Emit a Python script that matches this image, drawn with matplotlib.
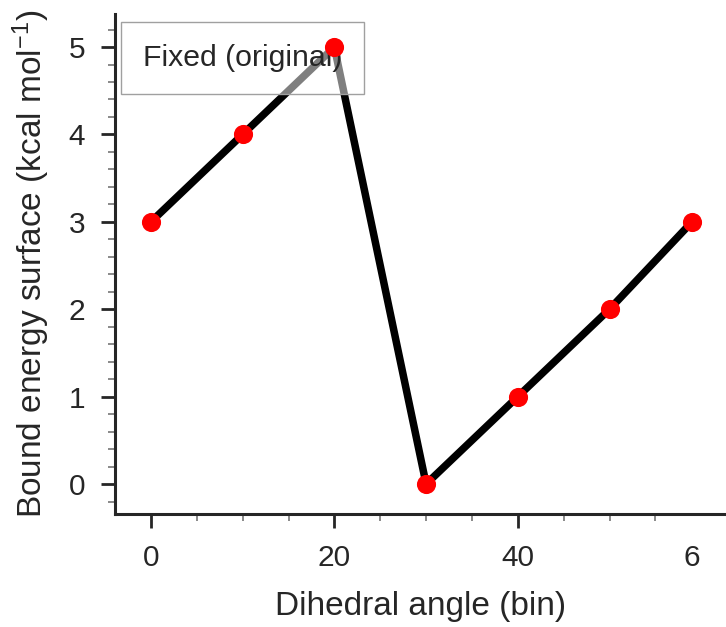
import matplotlib
matplotlib.use("Agg")
import matplotlib.pyplot as plt
from matplotlib.ticker import FixedLocator

plt.rcParams['font.family'] = ['Liberation Sans', 'DejaVu Sans']
plt.rcParams['mathtext.fontset'] = 'custom'
plt.rcParams['mathtext.rm'] = 'Liberation Sans'
plt.rcParams['mathtext.it'] = 'Liberation Sans:italic'
plt.rcParams['mathtext.default'] = 'regular'

# data
x_vals = [0, 10, 20, 30, 40, 50, 59]
y_vals = [3, 4, 5, 0, 1, 2, 3]
xtick_pos = [0, 20, 40, 59]
xtick_labels = ['0', '20', '40', '6']
ytick_pos = [0, 1, 2, 3, 4, 5]
legend_label = 'Fixed (original)'

text_color = '#262626'
fs_tick = 21.5
fs_label = 24
fs_leg = 21.8

fig = plt.figure(figsize=(7.26, 6.27), dpi=100)
ax = fig.add_axes([115/726, 1 - 514/627, 1 - 115/726 + 0.0, (514 - 14)/627])

line, = ax.plot(x_vals, y_vals, color='black', lw=5.4, zorder=2, label=legend_label)
ax.scatter(x_vals, y_vals, s=190, color='red', zorder=6, linewidths=0)

ax.set_xlim(-3.92, 62.7)
ax.set_ylim(-0.343, 5.378)

ax.set_xticks(xtick_pos)
ax.set_xticklabels(xtick_labels)
ax.xaxis.set_minor_locator(FixedLocator([5, 10, 15, 25, 30, 35, 45, 50, 55]))
ax.set_yticks(ytick_pos)
ax.yaxis.set_minor_locator(FixedLocator([v / 5 for v in range(-1, 27) if v % 5 != 0]))

ax.tick_params(which='major', length=10, width=2.0, color=text_color,
               labelsize=fs_tick, labelcolor=text_color, pad=11.5)
ax.tick_params(which='minor', length=5, width=1.3, color='#808080')
ax.xaxis.get_major_ticks()[3].tick1line.set_visible(False)

for side in ['top', 'right']:
    ax.spines[side].set_visible(False)
for side in ['left', 'bottom']:
    ax.spines[side].set_linewidth(2.2)
    ax.spines[side].set_color(text_color)

ax.set_xlabel('Dihedral angle (bin)', fontsize=fs_label, color=text_color, labelpad=14)
ax.set_ylabel('Bound energy surface (kcal mol$^{-1}$)', fontsize=fs_label, color=text_color, labelpad=12)

leg = ax.legend(handles=[line], labels=[legend_label], loc='upper left',
                bbox_to_anchor=((121 - 115)/611, (514 - 22)/500),
                borderaxespad=0, fontsize=fs_leg, handlelength=0, handletextpad=0,
                fancybox=False, borderpad=0.72, frameon=True)
for h in leg.legend_handles:
    h.set_visible(False)
for t in leg.get_texts():
    t.set_color(text_color)
frame = leg.get_frame()
frame.set_alpha(None)
frame.set_facecolor((1, 1, 1, 0.5))
frame.set_edgecolor('#a0a0a0')
frame.set_linewidth(1.0)
leg.set_zorder(5)

fig.savefig('out.png', dpi=100)
